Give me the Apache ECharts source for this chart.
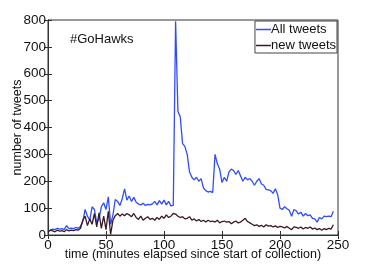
<!DOCTYPE html>
<html><head><meta charset="utf-8">
<script src="https://cdn.jsdelivr.net/npm/echarts@6/dist/echarts.min.js"></script>
<style>html,body{margin:0;padding:0;background:#fff}#c{width:374px;height:265px}</style>
</head><body><div id="c"></div>
<script>
// minutes elapsed: first sample and spacing between samples
const startMinute = 0;
const stepMinutes = 2;
const allTweets = [12,18,22,20,25,22,24,20,35,24,26,24,28,25,32,50,95,70,55,105,95,45,60,105,120,95,142,40,75,132,125,110,135,172,130,145,125,140,122,115,112,118,110,114,112,116,125,112,128,115,130,112,125,108,110,795,460,440,340,330,300,235,215,205,215,200,210,175,165,160,162,158,300,265,245,195,215,200,235,245,240,225,240,220,200,215,205,210,200,185,200,210,190,185,170,168,165,155,172,150,100,95,105,98,92,70,95,90,78,85,70,80,72,75,62,60,48,65,60,70,68,70,68,88];
const newTweets = [12,18,15,12,18,14,16,12,20,15,18,16,20,18,25,55,70,35,60,40,80,30,82,25,70,20,88,2,55,72,80,70,78,72,80,75,68,80,65,58,70,55,62,68,58,62,55,65,58,70,62,75,65,70,80,78,70,65,68,60,62,68,55,60,52,58,50,55,48,55,50,52,48,55,45,50,52,48,50,42,48,52,45,48,55,62,50,45,40,35,38,32,36,30,38,33,35,30,34,28,32,30,26,32,25,20,30,28,25,30,22,28,25,30,22,26,20,24,18,24,20,25,22,38];
const seriesNames = ['All tweets', 'new tweets'];
const xTicks = [0, 50, 100, 150, 200, 250];
const yTicks = [0, 100, 200, 300, 400, 500, 600, 700, 800];
const annotation = '#GoHawks';
const xTitle = 'time (minutes elapsed since start of collection)';
const yTitle = 'number of tweets';

const toPairs = arr => arr.map((v, i) => [startMinute + i * stepMinutes, v]);
const font = 'Liberation Sans, Arial, Helvetica, sans-serif';
const chart = echarts.init(document.getElementById('c'), null, {renderer: 'canvas'});
const tickStyle = {show: true, inside: true, length: 4, lineStyle: {color: '#333', width: 1}};
chart.setOption({
  animation: false,
  backgroundColor: '#fff',
  grid: {left: 48, right: 36, top: 20, bottom: 30, containLabel: false, outerBoundsMode: 'none',
    show: true, borderColor: '#333', borderWidth: 1, backgroundColor: 'transparent'},
  xAxis: [{
    type: 'value', min: xTicks[0], max: xTicks[xTicks.length - 1], interval: 50,
    axisLine: {show: true, lineStyle: {color: '#333'}}, axisTick: tickStyle,
    axisLabel: {color: '#111', fontSize: 13.5, fontFamily: font, margin: 3},
    splitLine: {show: false},
    name: xTitle, nameLocation: 'middle', nameGap: 13, nameMoveOverlap: false,
    nameTextStyle: {color: '#111', fontSize: 12.5, fontFamily: font, verticalAlign: 'top'}
  }, {
    type: 'value', position: 'top', min: xTicks[0], max: xTicks[xTicks.length - 1], interval: 50,
    axisLine: {show: true, lineStyle: {color: '#333'}}, axisTick: tickStyle,
    axisLabel: {show: false}, splitLine: {show: false}
  }],
  yAxis: [{
    type: 'value', min: yTicks[0], max: yTicks[yTicks.length - 1], interval: 100,
    axisLine: {show: true, lineStyle: {color: '#333'}}, axisTick: tickStyle,
    axisLabel: {color: '#111', fontSize: 13.5, fontFamily: font, margin: 2},
    splitLine: {show: false},
    name: yTitle, nameLocation: 'middle', nameGap: 24, nameMoveOverlap: false,
    nameTextStyle: {color: '#111', fontSize: 12.5, fontFamily: font}
  }, {
    type: 'value', position: 'right', min: yTicks[0], max: yTicks[yTicks.length - 1], interval: 100,
    axisLine: {show: true, lineStyle: {color: '#333'}}, axisTick: tickStyle,
    axisLabel: {show: false}, splitLine: {show: false}
  }],
  legend: {
    orient: 'vertical', right: 37, top: 21,
    data: seriesNames, icon: 'rect', itemWidth: 15, itemHeight: 1.5, itemGap: 3,
    borderColor: '#444', borderWidth: 1, padding: [2, 1, 1, 1], backgroundColor: '#fff',
    textStyle: {color: '#111', fontSize: 13, fontFamily: font, padding: [0, 0, 0, -5]}
  },
  graphic: [{
    type: 'text', left: 70, top: 33,
    style: {text: annotation, fill: '#111', fontSize: 13, fontFamily: font}
  }],
  series: [{
    name: seriesNames[0], type: 'line', data: toPairs(allTweets), showSymbol: false, symbol: 'none',
    lineStyle: {color: '#2f4cff', width: 1.3}, itemStyle: {color: '#2f4cff'}, z: 2
  }, {
    name: seriesNames[1], type: 'line', data: toPairs(newTweets), showSymbol: false, symbol: 'none',
    lineStyle: {color: '#3b1a26', width: 1.3}, itemStyle: {color: '#3b1a26'}, z: 3
  }]
});
</script></body></html>
